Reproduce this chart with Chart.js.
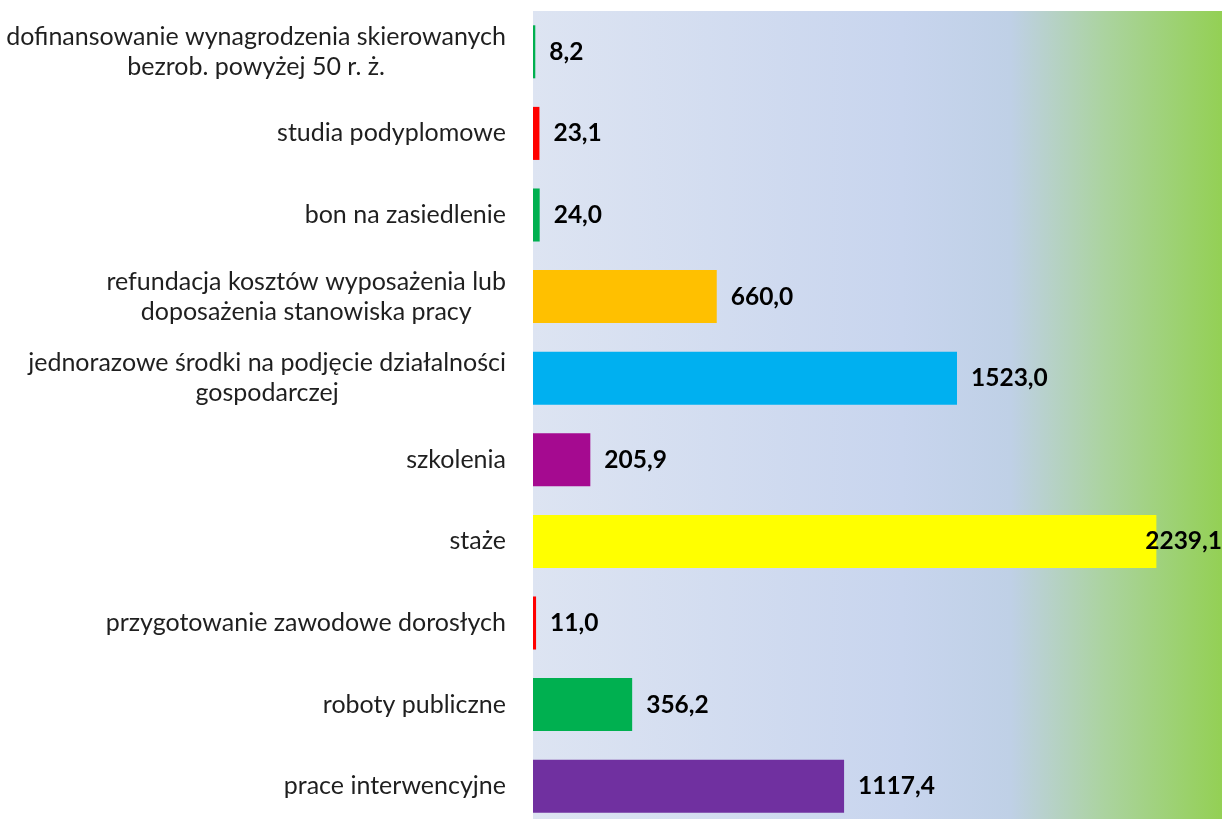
<!DOCTYPE html>
<html>
<head>
<meta charset="utf-8">
<script src="https://cdn.jsdelivr.net/npm/chart.js@4"></script>
<style>
html,body{margin:0;padding:0;background:#fff;overflow:hidden;}
#wrap{width:1240px;height:830px;}
</style>
</head>
<body>
<div id="wrap"><canvas id="c" width="1240" height="830"></canvas></div>
<script>
const categories = [
  ["dofinansowanie wynagrodzenia skierowanych", "bezrob. powyżej 50 r. ż."],
  ["studia podyplomowe"],
  ["bon na zasiedlenie"],
  ["refundacja kosztów wyposażenia lub", "doposażenia stanowiska pracy"],
  ["jednorazowe środki na podjęcie działalności", "gospodarczej"],
  ["szkolenia"],
  ["staże"],
  ["przygotowanie zawodowe dorosłych"],
  ["roboty publiczne"],
  ["prace interwencyjne"]
];
const values = [8.2, 23.1, 24.0, 660.0, 1523.0, 205.9, 2239.1, 11.0, 356.2, 1117.4];
const barColors = ["#00b050", "#ff0000", "#00b050", "#ffc000", "#00b0f0", "#a50a90", "#ffff00", "#ff0000", "#00b050", "#7030a0"];
const xMax = 2500;

const LABEL_FONT = '25px Lato';
const VALUE_FONT = 'bold 24.5px Lato';

const bgPlugin = {
  id: 'bg',
  beforeDraw(chart) {
    const {ctx, chartArea: a} = chart;
    const g = ctx.createLinearGradient(a.left, 0, a.right, 0);
    g.addColorStop(0, '#dde4f2');
    g.addColorStop(0.53, '#c8d5ee');
    g.addColorStop(0.686, '#bfd0e6');
    g.addColorStop(0.82, '#abd3a0');
    g.addColorStop(1, '#92d050');
    ctx.save();
    ctx.fillStyle = g;
    ctx.fillRect(a.left, a.top, a.right - a.left, a.bottom - a.top);
    ctx.restore();
  }
};

const labelPlugin = {
  id: 'labels',
  afterDatasetsDraw(chart) {
    const {ctx} = chart;
    const yScale = chart.scales.y;
    const meta = chart.getDatasetMeta(0);
    ctx.save();
    ctx.font = LABEL_FONT;
    ctx.fillStyle = '#1f1f1f';
    ctx.textBaseline = 'middle';
    ctx.textAlign = 'center';
    const rightEdge = 506, lh = 30;
    categories.forEach((lines, i) => {
      const yc = yScale.getPixelForValue(i);
      const w = Math.max(...lines.map(l => ctx.measureText(l).width));
      const cx = rightEdge - w / 2;
      const y0 = yc - (lines.length - 1) * lh / 2;
      lines.forEach((l, k) => ctx.fillText(l, cx, y0 + k * lh));
    });
    ctx.font = VALUE_FONT;
    ctx.fillStyle = '#000';
    ctx.textAlign = 'left';
    meta.data.forEach((bar, i) => {
      const t = values[i].toFixed(1).replace('.', ',');
      const w = ctx.measureText(t).width;
      let x = bar.x + 14;
      if (x + w > 1222) x = 1222 - w;
      ctx.fillText(t, x, bar.y);
    });
    ctx.restore();
  }
};

new Chart(document.getElementById('c'), {
  type: 'bar',
  data: {
    labels: categories,
    datasets: [{
      data: values,
      backgroundColor: barColors,
      borderWidth: 0,
      categoryPercentage: 1.0,
      barPercentage: 0.65
    }]
  },
  options: {
    indexAxis: 'y',
    responsive: false,
    animation: false,
    layout: {padding: {left: 533, top: 11, right: 11, bottom: 3}},
    plugins: {legend: {display: false}, tooltip: {enabled: false}},
    scales: {
      x: {display: false, min: 0, max: xMax},
      y: {display: false}
    }
  },
  plugins: [bgPlugin, labelPlugin]
});
</script>
</body>
</html>
